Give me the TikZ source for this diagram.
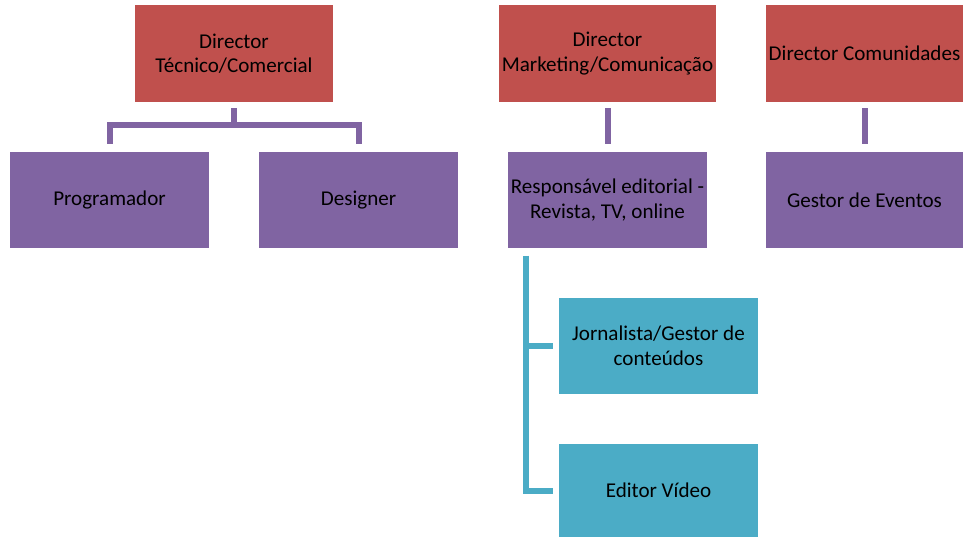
\documentclass[tikz,border=0pt]{standalone}
\usepackage{fontspec}
\setmainfont{Carlito}
\usepackage{tikz}
\usetikzlibrary{calc}
\usetikzlibrary{positioning}
\definecolor{boxred}{HTML}{C0504D}
\definecolor{boxpurple}{HTML}{8064A2}
\definecolor{boxcyan}{HTML}{4BACC6}

\begin{document}
\begin{tikzpicture}[x=0.02cm,y=-0.02cm,
    orgbox/.style={rectangle, inner sep=0pt, minimum height=1.94cm, align=center,
      font=\fontsize{12}{14}\selectfont, text=black},
    redbox/.style={orgbox, fill=boxred},
    purplebox/.style={orgbox, fill=boxpurple},
    cyanbox/.style={orgbox, fill=boxcyan},
    purpleline/.style={draw=boxpurple, line width=0.12cm},
    cyanline/.style={draw=boxcyan, line width=0.12cm}]
    \useasboundingbox (0,0) rectangle (963,537);

    \node[redbox, minimum width=3.96cm] (dirtec) at (234,53.5) {Director\\Técnico/Comercial};
    \node[redbox, minimum width=4.34cm] (dirmkt) at (607.5,53.5) {Director\\Marketing/Comunicação};
    \node[redbox, minimum width=3.94cm] (dircom) at (864.5,53.5) {Director Comunidades};

    \node[purplebox, minimum width=3.98cm] (prog) at (109.5,200) {Programador};
    \node[purplebox, minimum width=3.98cm] (design) at (358.5,200) {Designer};
    \node[purplebox, minimum width=3.98cm] (resp) at (607.5,200) {Responsável editorial -\\Revista, TV, online};
    \node[purplebox, minimum width=3.94cm] (gestev) at (864.5,200) {Gestor de Eventos};

    \node[cyanbox, minimum width=3.98cm] (jorn) at (658.5,346) {Jornalista/Gestor de\\conteúdos};
    \node[cyanbox, minimum width=3.98cm, minimum height=1.86cm] (editv) at (658.5,490.5) {Editor Vídeo};

    \draw[purpleline] ([yshift=-0.12cm]dirtec.south) -- ++(0,17) -| ([yshift=0.14cm]prog.north);
    \draw[purpleline] ([yshift=-0.12cm]dirtec.south) -- ++(0,17) -| ([yshift=0.14cm]design.north);
    \draw[purpleline, shorten <=0.12cm, shorten >=0.14cm] (dirmkt) -- (resp);
    \draw[purpleline, shorten <=0.12cm, shorten >=0.14cm] (dircom) -- (gestev);

    \draw[cyanline, shorten >=0.12cm] ([xshift=0.36cm,yshift=-0.14cm]resp.south west) |- (jorn.west);
    \draw[cyanline, shorten >=0.12cm] ([xshift=0.36cm,yshift=-0.14cm]resp.south west) |- (editv.west);
  \end{tikzpicture}
\end{document}
